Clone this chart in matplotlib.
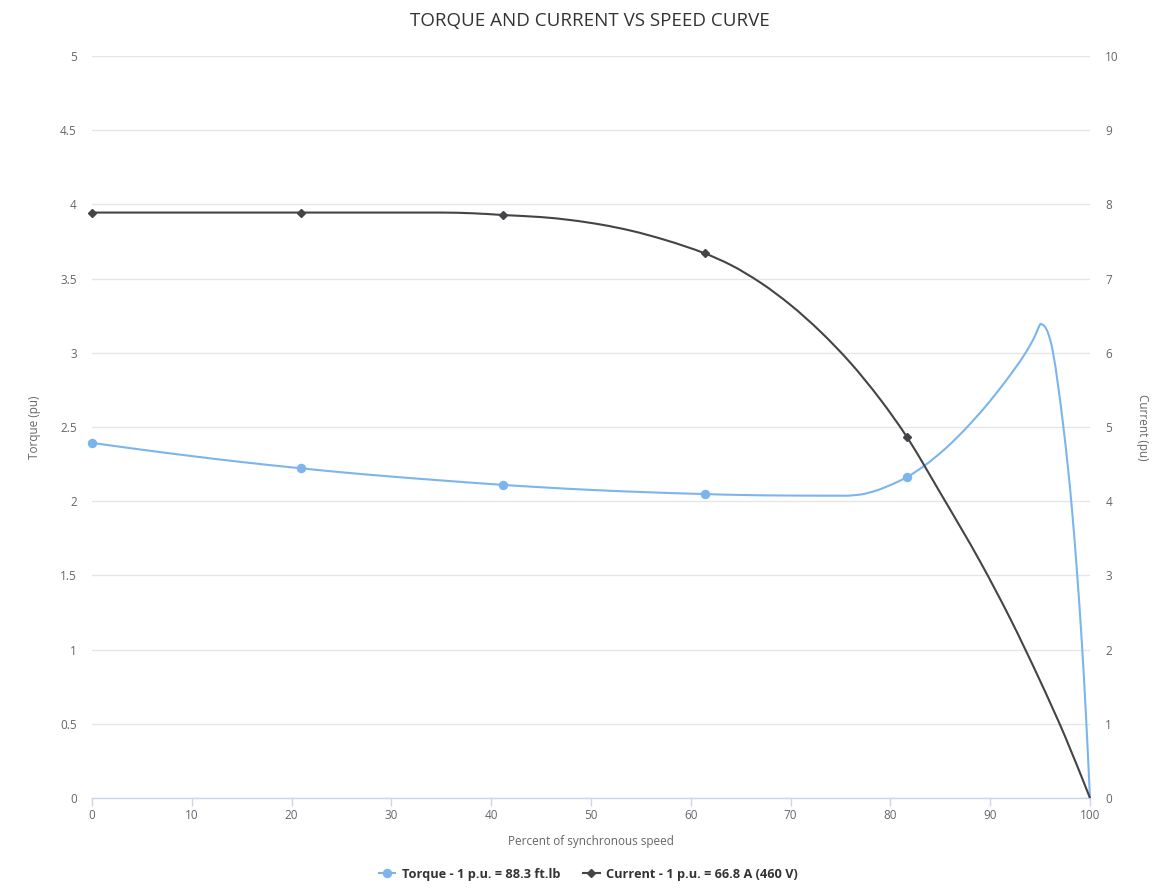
import matplotlib
matplotlib.use("Agg")
import matplotlib.pyplot as plt
import numpy as np
from matplotlib.lines import Line2D
from matplotlib.path import Path
from matplotlib.patches import PathPatch

# ---- data ----
torque_speed = [0, 5, 10, 15, 20.9, 25, 30, 35, 41.15, 45, 50, 55, 61.4, 65, 70, 75.5,
                77, 78.5, 80, 81.63, 83.5, 85.5, 87.5, 89.5, 91.5, 93.5, 94.5, 94.8, 95.06,
                95.35, 95.66, 96.0, 96.3, 96.8, 97.3, 97.8, 98.2, 98.7, 99.2, 99.6, 100]
torque_pu = [2.393, 2.347, 2.304, 2.264, 2.222, 2.195, 2.166, 2.140, 2.110, 2.094, 2.076,
             2.062, 2.048, 2.042, 2.038, 2.037, 2.045, 2.07, 2.109, 2.161, 2.244, 2.354,
             2.486, 2.636, 2.805, 2.995, 3.115, 3.163, 3.194, 3.185, 3.155, 3.09, 3.0,
             2.78, 2.52, 2.22, 1.94, 1.52, 1.03, 0.55, 0.0]

current_speed = [0, 20.9, 30, 35, 38.2, 41.15, 45, 48, 51, 54, 57.5, 61.4, 64, 67, 70,
                 73, 76, 79, 81.63, 85, 89, 92, 95, 97.5, 100]
current_pu = [7.89, 7.89, 7.89, 7.89, 7.88, 7.857, 7.829, 7.788, 7.728, 7.646, 7.518,
              7.34, 7.184, 6.944, 6.644, 6.284, 5.864, 5.369, 4.87, 4.112, 3.184, 2.419,
              1.579, 0.83, 0.0]

marker_speeds = [0, 20.9, 41.15, 61.4, 81.63]

x_ticks = [0, 10, 20, 30, 40, 50, 60, 70, 80, 90, 100]
torque_ticks = [0, 0.5, 1, 1.5, 2, 2.5, 3, 3.5, 4, 4.5, 5]
torque_tick_labels = ["0", "0.5", "1", "1.5", "2", "2.5", "3", "3.5", "4", "4.5", "5"]
current_ticks = [0, 1, 2, 3, 4, 5, 6, 7, 8, 9, 10]

title = "TORQUE AND CURRENT VS SPEED CURVE"
x_title = "Percent of synchronous speed"
torque_title = "Torque (pu)"
current_title = "Current (pu)"
torque_label = "Torque - 1 p.u. = 88.3 ft.lb"
current_label = "Current - 1 p.u. = 66.8 A (460 V)"

TORQUE_COLOR = "#7cb5ec"
CURRENT_COLOR = "#434348"
GRID = "#e6e6e6"
AXIS = "#ccd6eb"
LABEL = "#666666"

plt.rcParams['font.family'] = ['Open Sans', 'DejaVu Sans']


def spline_path(xs, ys):
    """Smooth (monotone cubic) Bezier path through the data points, like a spline series."""
    x = np.asarray(xs, float)
    y = np.asarray(ys, float)
    h = np.diff(x)
    d = np.diff(y) / h
    n = len(x)
    m = np.zeros(n)
    m[0], m[-1] = d[0], d[-1]
    for i in range(1, n - 1):
        if d[i - 1] * d[i] <= 0:
            m[i] = 0.0
        else:
            w1 = 2 * h[i] + h[i - 1]
            w2 = h[i] + 2 * h[i - 1]
            m[i] = (w1 + w2) / (w1 / d[i - 1] + w2 / d[i])
    verts = [(x[0], y[0])]
    codes = [Path.MOVETO]
    for i in range(n - 1):
        verts += [(x[i] + h[i] / 3, y[i] + m[i] * h[i] / 3),
                  (x[i + 1] - h[i] / 3, y[i + 1] - m[i + 1] * h[i] / 3),
                  (x[i + 1], y[i + 1])]
        codes += [Path.CURVE4] * 3
    return Path(verts, codes)


W, H = 1173, 896
fig = plt.figure(figsize=(W / 100, H / 100), dpi=100)
L, R, T, B = 92, 1090, 56, 798
ax = fig.add_axes([L / W, 1 - B / H, (R - L) / W, (B - T) / H])
ax2 = ax.twinx()

ax.set_xlim(0, 100)
ax.set_ylim(0, 5)
ax2.set_ylim(0, 10)

ax.set_yticks(torque_ticks)
ax.set_yticklabels(torque_tick_labels)
ax2.set_yticks(current_ticks)
ax.set_xticks(x_ticks)

ax.grid(axis='y', color=GRID, linewidth=1)
ax.set_axisbelow(True)
for a in (ax, ax2):
    for s in ('top', 'left', 'right'):
        a.spines[s].set_visible(False)
    a.spines['bottom'].set_color(AXIS)
    a.spines['bottom'].set_linewidth(1)
ax2.spines['bottom'].set_visible(False)

ax.tick_params(axis='y', length=0, pad=11, labelsize=8.5, labelcolor=LABEL)
ax2.tick_params(axis='y', length=0, pad=11, labelsize=8.5, labelcolor=LABEL)
ax.tick_params(axis='x', length=6, width=1, color=AXIS, pad=2, labelsize=8.5, labelcolor=LABEL)


def mark_idx(xs):
    return [i for i, v in enumerate(xs) if v in marker_speeds]


ax.add_patch(PathPatch(spline_path(torque_speed, torque_pu), fill=False,
                       edgecolor=TORQUE_COLOR, lw=1.5, zorder=3, clip_on=False))
ax2.add_patch(PathPatch(spline_path(current_speed, current_pu), fill=False,
                        edgecolor=CURRENT_COLOR, lw=1.5, zorder=3, clip_on=False))
ti = mark_idx(torque_speed)
ci = mark_idx(current_speed)
ax.plot([torque_speed[i] for i in ti], [torque_pu[i] for i in ti], ls='none',
        color=TORQUE_COLOR, marker='o', ms=5.8, zorder=4, clip_on=False)
ax2.plot([current_speed[i] for i in ci], [current_pu[i] for i in ci], ls='none',
         color=CURRENT_COLOR, marker='D', ms=4.3, zorder=4, clip_on=False)

ax.set_xlabel(x_title, fontsize=8.5, color=LABEL, labelpad=9)
ax.set_ylabel(torque_title, fontsize=8.5, color=LABEL, labelpad=14)
ax2.set_ylabel(current_title, fontsize=8.5, color=LABEL, rotation=270, labelpad=22)

fig.text(0.503, 1 - 21 / H, title, ha='center', va='center', fontsize=13.5, color="#333333")

handles = [
    Line2D([0], [0], color=TORQUE_COLOR, lw=1.5, marker='o', ms=5.8),
    Line2D([0], [0], color=CURRENT_COLOR, lw=1.5, marker='D', ms=4.3),
]
leg = fig.legend(handles, [torque_label, current_label], loc='center',
                 bbox_to_anchor=(0.5015, 1 - 874 / H), ncol=2, frameon=False,
                 handlelength=1.3, handletextpad=0.5, columnspacing=1.8, numpoints=1,
                 prop={'size': 9.2, 'weight': 'bold'})
for t in leg.get_texts():
    t.set_color("#333333")

fig.savefig("out.png", dpi=100)
